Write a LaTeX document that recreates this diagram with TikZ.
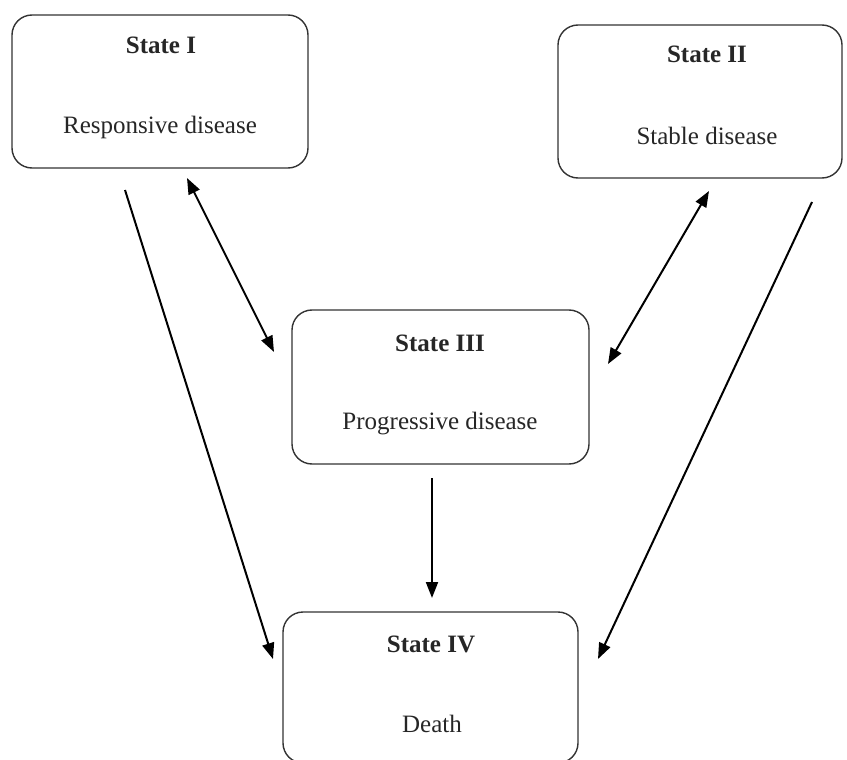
\documentclass[tikz,border=0pt]{standalone}
\usepackage{fontspec}
\setmainfont{Liberation Serif}
\usetikzlibrary{arrows.meta}
\begin{document}
\begin{tikzpicture}[x=1pt,y=-1pt,
  statebox/.style={draw=black!80, line width=1.4pt, rounded corners=20pt, rectangle, inner sep=0pt},
  titletext/.style={font=\fontsize{25}{29}\selectfont\bfseries, text=black!85, inner sep=0pt, anchor=base},
  bodytext/.style={font=\fontsize{25}{29}\selectfont, text=black!85, inner sep=0pt, anchor=base},
  conn/.style={line width=2pt, -{Triangle[length=16pt,width=12pt]}},
  biconn/.style={line width=2pt, {Triangle[length=16pt,width=12pt]}-{Triangle[length=16pt,width=12pt]}}]
\useasboundingbox (0,0) rectangle (847,760);
\clip (0,0) rectangle (847,760);
% boxes
\node[statebox, minimum width=296pt, minimum height=153pt] (s1) at (160,91.5) {};
\node[statebox, minimum width=284pt, minimum height=153pt] (s2) at (700,101.5) {};
\node[statebox, minimum width=297pt, minimum height=154pt] (s3) at (440.5,387) {};
\node[statebox, minimum width=295pt, minimum height=151pt] (s4) at (430.5,687.5) {};
% texts
\node[titletext] (t1) at (161,54) {State I};
\node[bodytext] (b1) at (160,134) {Responsive disease};
\node[titletext] (t2) at (707,63) {State II};
\node[bodytext] (b2) at (707,144) {Stable disease};
\node[titletext] (t3) at (440,351) {State III};
\node[bodytext] (b3) at (440,429) {Progressive disease};
\node[titletext] (t4) at (431,652) {State IV};
\node[bodytext] (b4) at (432,732) {Death};
% connector end points
\coordinate (a1s) at (125,190);
\coordinate (a1e) at (273,659);
\coordinate (d1a) at (187,178);
\coordinate (d1b) at (274,352);
\coordinate (d2a) at (709,191);
\coordinate (d2b) at (608,364);
\coordinate (a2s) at (812,202);
\coordinate (a2e) at (598,659);
\coordinate (a3s) at (432,478);
\coordinate (a3e) at (432,598);
% connectors
\draw[conn] (a1s) -- (a1e);
\draw[biconn] (d1a) -- (d1b);
\draw[biconn] (d2a) -- (d2b);
\draw[conn] (a2s) -- (a2e);
\draw[conn] (a3s) -- (a3e);
\end{tikzpicture}
\end{document}
